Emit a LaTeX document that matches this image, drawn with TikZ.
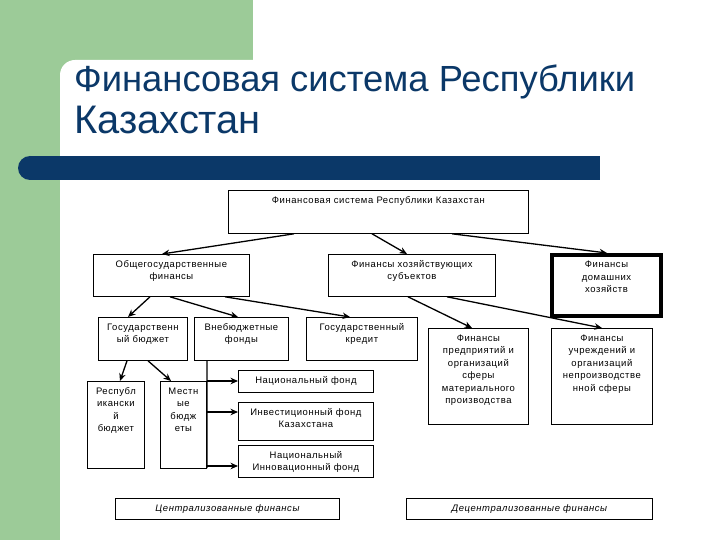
\documentclass[tikz,border=0pt]{standalone}
\usepackage{fontspec}
\setmainfont{Liberation Sans}
\newfontfamily\boxfont[LetterSpace=6]{Liberation Sans}
\usepackage{tikz}
\usetikzlibrary{arrows.meta}
\definecolor{mSlideGreen}{HTML}{9CCB98}
\definecolor{mSlideNavy}{HTML}{0B3868}
\newcommand{\celltext}[3]{\parbox[c][#2bp][t]{#1bp}{\centering\rule{0pt}{13bp}#3}}

\begin{document}
\begin{tikzpicture}[x=1bp, y=-1bp,
  finbox/.style={draw, line width=0.8bp, inner sep=0pt, anchor=north west, font=\boxfont\fontsize{9.5}{12.5}\selectfont},
  thickbox/.style={finbox, line width=4bp},
  link/.style={-{Stealth[length=7.5bp,width=6.5bp]}, line width=1.3bp}]
\useasboundingbox (0,0) rectangle (720,540);
% slide background
\fill[white] (0,0) rectangle (720,540);
\fill[mSlideGreen] (0,0) rectangle (253,75);
\fill[mSlideGreen] (0,0) rectangle (60,540);
\fill[white] (60,540) [rounded corners=15bp] -- (60,60) [sharp corners] -- (720,60) -- (720,540) -- cycle;
\fill[mSlideNavy] (30,156) rectangle (600,180);
\fill[mSlideNavy] (30,168) circle (12);
\node[anchor=base west, inner sep=0pt, text=mSlideNavy, font=\fontsize{36.5}{40}\selectfont] (title1) at (74,92) {Финансовая система Республики};
\node[anchor=base west, inner sep=0pt, text=mSlideNavy, font=\fontsize{40}{44}\selectfont] (title2) at (74,134) {Казахстан};
% levels
\node[finbox] (sys) at (228,190) {\celltext{300}{43}{Финансовая система Республики Казахстан}};
\node[finbox] (ogf) at (93,254) {\celltext{156}{42}{Общегосударственные\\финансы}};
\node[finbox] (hoz) at (328,254) {\celltext{167}{42}{Финансы хозяйствующих\\субъектов}};
\node[thickbox] (dom) at (550,253) {\celltext{109}{61}{Финансы\\домашних\\хозяйств}};
\node[finbox] (gb) at (98,317) {\celltext{89}{43}{Государственн\\ый бюджет}};
\node[finbox] (vbf) at (194,317) {\celltext{94}{43}{Внебюджетные\\фонды}};
\node[finbox] (gk) at (306,317) {\celltext{111}{43}{Государственный\\кредит}};
\node[finbox] (fpm) at (428,328) {\celltext{100}{96}{Финансы\\предприятий и\\организаций\\сферы\\материального\\производства}};
\node[finbox] (fun) at (551,328) {\celltext{101}{96}{Финансы\\учреждений и\\организаций\\непроизводстве\\нной сферы}};
\node[finbox] (rb) at (87,381) {\celltext{57}{87}{Республ\\икански\\й\\бюджет}};
\node[finbox] (mb) at (160,381) {\celltext{46}{87}{Местн\\ые\\бюдж\\еты}};
\node[finbox] (nf) at (238,370) {\celltext{135}{22}{Национальный фонд}};
\node[finbox] (inf) at (238,402) {\celltext{135}{38}{Инвестиционный фонд\\Казахстана}};
\node[finbox] (nif) at (238,445) {\celltext{135}{32}{Национальный\\Инновационный фонд}};
\node[finbox] (cf) at (115,498) {\celltext{224}{21}{\itshape Централизованные финансы}};
\node[finbox] (df) at (406,498) {\celltext{246}{21}{\itshape Децентрализованные финансы}};
% arrows
\draw[link] ([xshift=66bp]sys.south west) -- ([xshift=69bp]ogf.north west);
\draw[link] ([xshift=144bp]sys.south west) -- ([xshift=79bp]hoz.north west);
\draw[link] ([xshift=224bp]sys.south west) -- ([xshift=57bp]dom.north west);
\draw[link] ([xshift=57bp]ogf.south west) -- ([xshift=30bp]gb.north west);
\draw[link] ([xshift=77bp]ogf.south west) -- ([xshift=44bp]vbf.north west);
\draw[link] ([xshift=132bp]ogf.south west) -- ([xshift=44bp]gk.north west);
\draw[link] ([xshift=80bp]hoz.south west) -- ([xshift=44bp]fpm.north west);
\draw[link] ([xshift=119bp]hoz.south west) -- ([xshift=51bp]fun.north west);
\draw[link] ([xshift=29bp]gb.south west) -- ([xshift=33bp]rb.north west);
\draw[link] ([xshift=50bp]gb.south west) -- ([xshift=11bp]mb.north west);
% funds spine
\coordinate (spine top) at ([xshift=13bp]vbf.south west);
\coordinate (spine end) at (207,468);
\coordinate (tap1) at (207,381);
\coordinate (tap2) at (207,412);
\coordinate (tap3) at (207,466);
\draw[line width=1.3bp] (spine top) -- (spine end);
\draw[link] (tap1) -- (tap1 -| nf.west);
\draw[link] (tap2) -- (tap2 -| inf.west);
\draw[link] (tap3) -- (tap3 -| nif.west);
\end{tikzpicture}
\end{document}
